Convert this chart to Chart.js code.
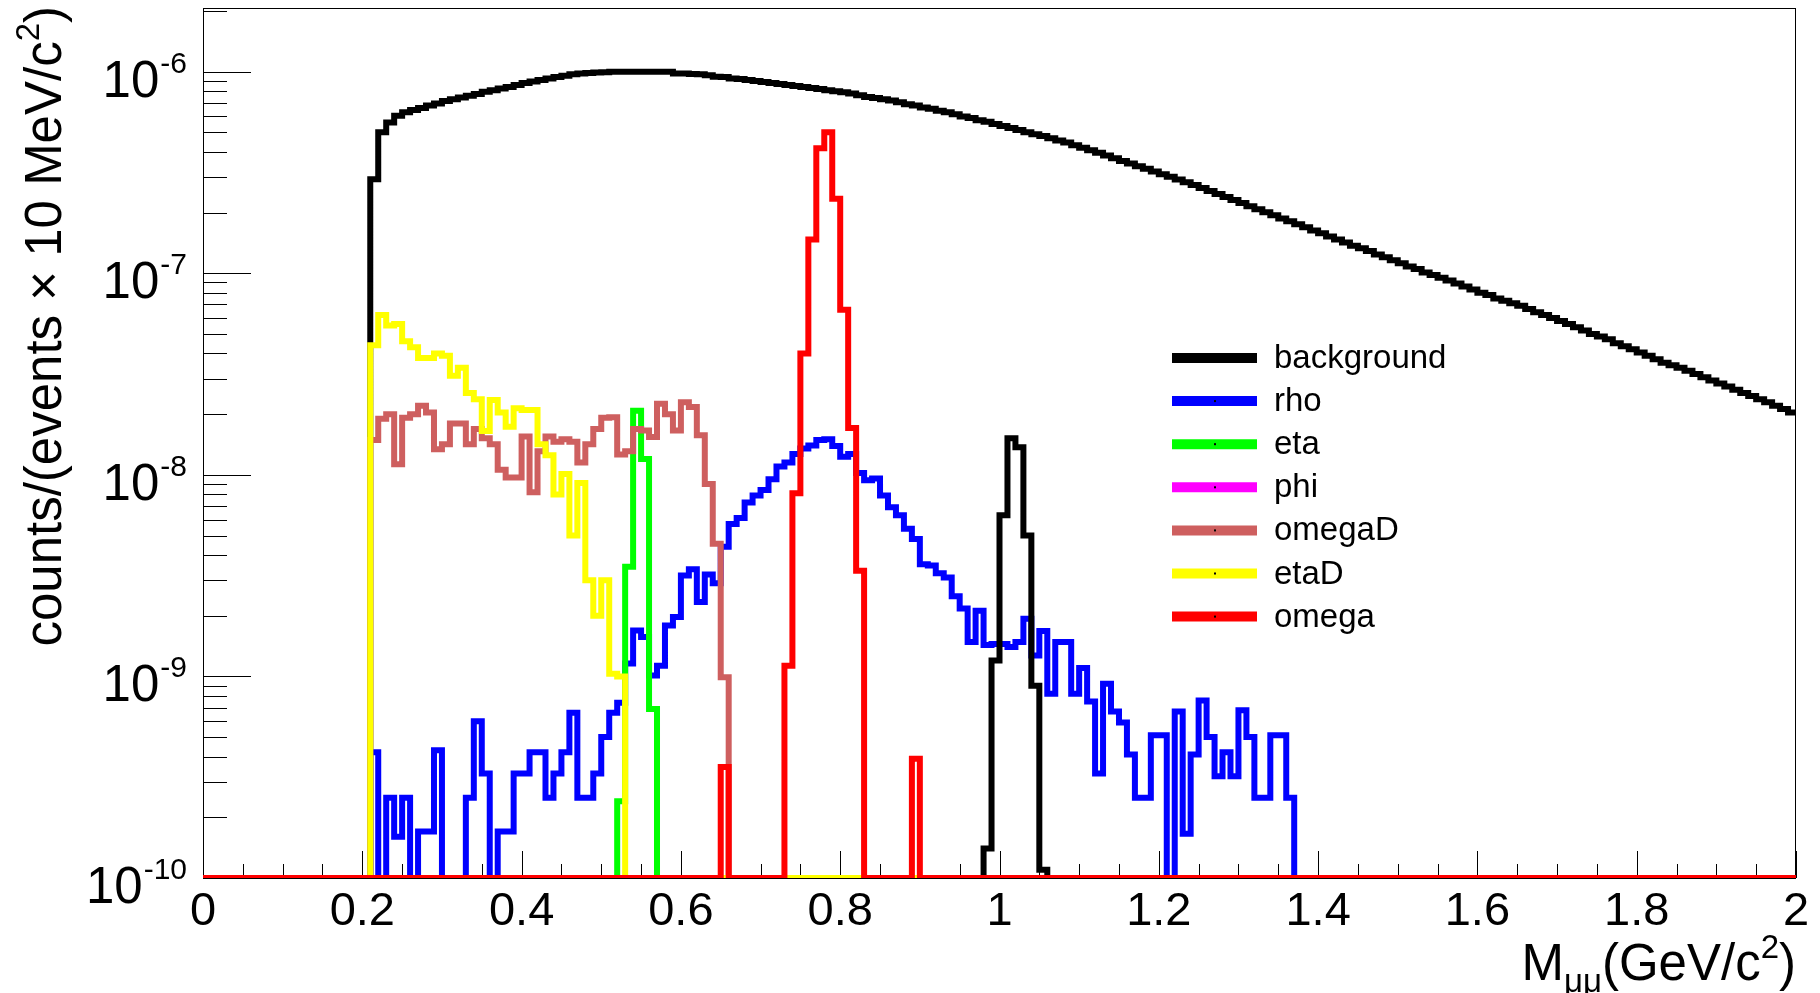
<!DOCTYPE html>
<html>
<head>
<meta charset="utf-8">
<script src="https://cdn.jsdelivr.net/npm/chart.js@4.4.1/dist/chart.umd.min.js"></script>
<style>
  html, body { margin: 0; padding: 0; background: #fff; }
  #wrap { width: 1820px; height: 993px; }
</style>
</head>
<body>
<div id="wrap"><canvas id="massChart" width="1820" height="993"></canvas></div>
<script>
// 10 MeV bins from 0 to 2 GeV/c2
const binWidth = 0.01;
const massMin = 0;
const massMax = 2;
const yMin = 1e-10;
const yMax = 2.07e-6;

const xTickValues = [0, 0.2, 0.4, 0.6, 0.8, 1, 1.2, 1.4, 1.6, 1.8, 2];
const xTickLabels = ["0", "0.2", "0.4", "0.6", "0.8", "1", "1.2", "1.4", "1.6", "1.8", "2"];
const yDecades = [-10, -9, -8, -7, -6];
const yTickLabels = ["-10", "-9", "-8", "-7", "-6"];

// each histogram: low edge of the first filled bin + contents of the following bins
const backgroundStart = 0.21;
const backgroundValues = [
  2.93e-7, 5.0e-7, 5.6e-7, 6.05e-7, 6.3e-7, 6.45e-7, 6.6e-7, 6.8e-7, 6.95e-7, 7.15e-7,
  7.3e-7, 7.45e-7, 7.6e-7, 7.75e-7, 7.95e-7, 8.1e-7, 8.25e-7, 8.4e-7, 8.6e-7, 8.8e-7,
  8.95e-7, 9.1e-7, 9.25e-7, 9.4e-7, 9.55e-7, 9.7e-7, 9.8e-7, 9.85e-7, 9.9e-7, 9.95e-7,
  1.0e-6, 1.0e-6, 1.0e-6, 1.0e-6, 1.0e-6, 1.0e-6, 1.0e-6, 1.0e-6, 9.8e-7, 9.8e-7,
  9.75e-7, 9.7e-7, 9.6e-7, 9.45e-7, 9.4e-7, 9.25e-7, 9.2e-7, 9.1e-7, 9.0e-7, 8.9e-7,
  8.8e-7, 8.7e-7, 8.6e-7, 8.5e-7, 8.4e-7, 8.3e-7, 8.2e-7, 8.1e-7, 8.0e-7, 7.9e-7,
  7.8e-7, 7.65e-7, 7.5e-7, 7.4e-7, 7.3e-7, 7.2e-7, 7.05e-7, 6.9e-7, 6.8e-7, 6.65e-7,
  6.55e-7, 6.4e-7, 6.3e-7, 6.15e-7, 6.0e-7, 5.9e-7, 5.75e-7, 5.65e-7, 5.5e-7, 5.38e-7,
  5.25e-7, 5.14e-7, 5.0e-7, 4.9e-7, 4.8e-7, 4.68e-7, 4.56e-7, 4.45e-7, 4.32e-7, 4.2e-7,
  4.08e-7, 3.96e-7, 3.84e-7, 3.72e-7, 3.61e-7, 3.5e-7, 3.4e-7, 3.3e-7, 3.2e-7, 3.1e-7,
  3.01e-7, 2.92e-7, 2.83e-7, 2.74e-7, 2.65e-7, 2.56e-7, 2.47e-7, 2.39e-7, 2.31e-7, 2.23e-7,
  2.15e-7, 2.08e-7, 2.01e-7, 1.94e-7, 1.87e-7, 1.81e-7, 1.75e-7, 1.69e-7, 1.63e-7, 1.58e-7,
  1.52e-7, 1.47e-7, 1.42e-7, 1.37e-7, 1.33e-7, 1.29e-7, 1.24e-7, 1.2e-7, 1.16e-7, 1.12e-7,
  1.08e-7, 1.05e-7, 1.01e-7, 9.8e-8, 9.5e-8, 9.2e-8, 8.9e-8, 8.6e-8, 8.3e-8, 8.0e-8,
  7.8e-8, 7.5e-8, 7.3e-8, 7.1e-8, 6.9e-8, 6.65e-8, 6.4e-8, 6.2e-8, 6.0e-8, 5.8e-8,
  5.6e-8, 5.4e-8, 5.2e-8, 5.0e-8, 4.85e-8, 4.7e-8, 4.5e-8, 4.35e-8, 4.2e-8, 4.05e-8,
  3.9e-8, 3.75e-8, 3.6e-8, 3.5e-8, 3.4e-8, 3.28e-8, 3.16e-8, 3.05e-8, 2.94e-8, 2.84e-8,
  2.74e-8, 2.64e-8, 2.55e-8, 2.46e-8, 2.37e-8, 2.29e-8, 2.2e-8, 2.12e-8, 2.04e-8
];

const rhoStart = 0.21;
const rhoValues = [
  4.2e-10, 0, 2.5e-10, 1.6e-10, 2.5e-10, 0, 1.7e-10, 1.7e-10, 4.3e-10, 0,
  0, 0, 2.5e-10, 6.0e-10, 3.3e-10, 0, 1.7e-10, 1.7e-10, 3.3e-10, 3.3e-10,
  4.2e-10, 4.2e-10, 2.5e-10, 3.3e-10, 4.2e-10, 6.6e-10, 2.5e-10, 2.5e-10, 3.3e-10, 5.0e-10,
  6.6e-10, 7.4e-10, 1.16e-9, 1.69e-9, 1.57e-9, 1.01e-9, 1.13e-9, 1.79e-9, 1.97e-9, 3.17e-9,
  3.4e-9, 2.34e-9, 3.2e-9, 2.9e-9, 4.4e-9, 5.7e-9, 6.1e-9, 7.3e-9, 7.9e-9, 8.4e-9,
  9.5e-9, 1.1e-8, 1.15e-8, 1.27e-8, 1.35e-8, 1.4e-8, 1.49e-8, 1.5e-8, 1.39e-8, 1.23e-8,
  1.27e-8, 1.02e-8, 9.4e-9, 9.6e-9, 7.9e-9, 6.9e-9, 6.3e-9, 5.4e-9, 4.8e-9, 3.6e-9,
  3.55e-9, 3.25e-9, 3.1e-9, 2.5e-9, 2.17e-9, 1.48e-9, 2.12e-9, 1.43e-9, 1.45e-9, 1.45e-9,
  1.4e-9, 1.48e-9, 1.93e-9, 1.27e-9, 1.68e-9, 8.2e-10, 1.48e-9, 1.48e-9, 8.2e-10, 1.1e-9,
  7.5e-10, 3.3e-10, 9.2e-10, 6.7e-10, 5.9e-10, 4.1e-10, 2.5e-10, 2.5e-10, 5.1e-10, 5.1e-10,
  0, 6.7e-10, 1.66e-10, 4.1e-10, 7.6e-10, 5.0e-10, 3.2e-10, 4.2e-10, 3.2e-10, 6.8e-10,
  5.0e-10, 2.5e-10, 2.5e-10, 5.1e-10, 5.1e-10, 2.5e-10
];

const etaStart = 0.52;
const etaValues = [2.4e-10, 3.5e-9, 2.08e-8, 1.2e-8, 6.9e-10];

const phiStart = 0.98;
const phiValues = [1.4e-10, 1.2e-9, 6.3e-9, 1.52e-8, 1.37e-8, 5.0e-9, 9.0e-10, 1.1e-10];

const omegaDStart = 0.21;
const omegaDValues = [
  1.49e-8, 1.9e-8, 2.0e-8, 1.13e-8, 1.92e-8, 2.0e-8, 2.2e-8, 2.04e-8, 1.34e-8, 1.42e-8,
  1.8e-8, 1.8e-8, 1.42e-8, 1.69e-8, 1.52e-8, 1.42e-8, 1.06e-8, 9.7e-9, 9.7e-9, 1.55e-8,
  8.2e-9, 1.31e-8, 1.55e-8, 1.46e-8, 1.5e-8, 1.46e-8, 1.15e-8, 1.42e-8, 1.69e-8, 1.92e-8,
  1.93e-8, 1.26e-8, 1.31e-8, 1.69e-8, 1.66e-8, 1.54e-8, 2.25e-8, 2.0e-8, 1.66e-8, 2.29e-8,
  2.17e-8, 1.57e-8, 9.0e-9, 4.55e-9, 9.9e-10
];

const etaDStart = 0.21;
const etaDValues = [
  4.4e-8, 6.2e-8, 5.5e-8, 5.6e-8, 4.6e-8, 4.3e-8, 3.8e-8, 3.8e-8, 4.0e-8, 3.9e-8,
  3.1e-8, 3.4e-8, 2.55e-8, 2.37e-8, 1.65e-8, 2.35e-8, 2.04e-8, 1.73e-8, 2.14e-8, 2.1e-8,
  2.1e-8, 1.42e-8, 1.25e-8, 8.0e-9, 1.01e-8, 5.0e-9, 9.1e-9, 3.0e-9, 2.0e-9, 3.0e-9,
  1.03e-9, 1.0e-9
];

const omegaStart = 0.65;
const omegaValues = [
  3.55e-10, 0, 0, 0, 0, 0, 0, 0, 1.13e-9, 8.1e-9,
  4.0e-8, 1.47e-7, 4.17e-7, 5.0e-7, 2.34e-7, 6.6e-8, 1.71e-8, 3.34e-9, 0, 0,
  0, 0, 0, 0, 3.9e-10
];

const seriesNames = ["background", "rho", "eta", "phi", "omegaD", "etaD", "omega"];
const seriesStarts = [backgroundStart, rhoStart, etaStart, phiStart, omegaDStart, etaDStart, omegaStart];
const seriesValues = [backgroundValues, rhoValues, etaValues, phiValues, omegaDValues, etaDValues, omegaValues];
// line colours as drawn; the phi peak is drawn in black although its legend entry is magenta
const lineColors = ["#000000", "#0000ff", "#00ff00", "#000000", "#ce5f5f", "#ffff00", "#ff0000"];
const legendColors = ["#000000", "#0000ff", "#00ff00", "#ff00ff", "#ce5f5f", "#ffff00", "#ff0000"];

const FONT = '"Liberation Sans", Arial, Helvetica, sans-serif';

// histogram as step points at the bin low edges; empty bins sit on the axis floor like ROOT does in log y
function histPoints(start, values) {
  const nBins = Math.round((massMax - massMin) / binWidth);
  const first = Math.round((start - massMin) / binWidth);
  const pts = [];
  for (let i = 0; i < nBins; i++) {
    const j = i - first;
    const v = (j >= 0 && j < values.length) ? values[j] : 0;
    pts.push({ x: +(massMin + i * binWidth).toFixed(2), y: v > 0 ? v : yMin });
  }
  pts.push({ x: massMax, y: pts[pts.length - 1].y });
  return pts;
}

const datasets = seriesNames.map((name, i) => ({
  label: name,
  data: histPoints(seriesStarts[i], seriesValues[i]),
  borderColor: lineColors[i],
  backgroundColor: lineColors[i],
  borderWidth: 6,
  stepped: "before",   // keep each bin's value until the next low edge
  pointRadius: 0,
  fill: false,
  tension: 0,
  borderJoinStyle: "miter",
  order: seriesNames.length - 1 - i   // later series drawn on top
}));

const rootAxes = {
  id: "rootAxes",
  beforeDatasetsDraw(chart) {
    const { ctx, chartArea: a, scales: { x, y } } = chart;
    ctx.save();
    ctx.strokeStyle = "#000";
    ctx.lineWidth = 1;
    ctx.strokeRect(a.left + 0.5, a.top + 0.5, a.right - a.left - 1, a.bottom - a.top);
    ctx.beginPath();
    // x ticks, every 0.05, pointing up into the frame
    for (let k = 0; k <= 40; k++) {
      const v = k * 0.05;
      const px = Math.round(x.getPixelForValue(v)) + 0.5;
      const len = (k % 4 === 0) ? 27 : 14;
      ctx.moveTo(px, a.bottom);
      ctx.lineTo(px, a.bottom - len);
    }
    // y ticks: decades long, 2..9 short
    yDecades.forEach(d => {
      for (let m = 1; m <= 9; m++) {
        const v = m * Math.pow(10, d);
        if (v > yMax) break;
        const py = Math.round(y.getPixelForValue(v)) + 0.5;
        const len = m === 1 ? 48 : 24;
        ctx.moveTo(a.left, py);
        ctx.lineTo(a.left + len, py);
      }
    });
    ctx.stroke();
    ctx.restore();
  },
  afterDraw(chart) {
    const { ctx, chartArea: a, scales: { x, y } } = chart;
    ctx.save();
    ctx.fillStyle = "#000";
    ctx.textBaseline = "alphabetic";

    // x tick labels
    ctx.font = "47px " + FONT;
    ctx.textAlign = "center";
    xTickValues.forEach((v, i) => {
      ctx.fillText(xTickLabels[i], x.getPixelForValue(v), 925);
    });

    // y tick labels 10^n
    ctx.textAlign = "left";
    yDecades.forEach((d, i) => {
      const py = y.getPixelForValue(Math.pow(10, d));
      ctx.font = "30px " + FONT;
      const we = ctx.measureText(yTickLabels[i]).width;
      ctx.font = "51px " + FONT;
      const wb = ctx.measureText("10").width;
      const right = 187;
      ctx.fillText("10", right - we - wb - 1, py + 25);
      ctx.font = "30px " + FONT;
      ctx.fillText(yTickLabels[i], right - we, py + 1);
    });

    // x title, right aligned to the end of the axis
    const xParts = [
      { t: "M", size: 51, dy: 0 },
      { t: "\u03bc\u03bc", size: 33, dy: 12 },
      { t: "(GeV/c", size: 51, dy: 0 },
      { t: "2", size: 33, dy: -22 },
      { t: ")", size: 51, dy: 0 }
    ];
    drawParts(ctx, xParts, a.right, 980);

    // y title, rotated, right aligned to the top of the axis
    ctx.save();
    ctx.translate(61, 6);
    ctx.rotate(-Math.PI / 2);
    const yParts = [
      { t: "counts/(events \u00d7 10 MeV/c", size: 51, dy: 0 },
      { t: "2", size: 33, dy: -22 },
      { t: ")", size: 51, dy: 0 }
    ];
    drawParts(ctx, yParts, 0, 0);
    ctx.restore();

    // legend
    const swatchLeft = 1172, swatchRight = 1257, textX = 1274;
    const rowTop = 358, rowStep = 43.1;
    seriesNames.forEach((name, i) => {
      const ry = rowTop + i * rowStep;
      ctx.strokeStyle = legendColors[i];
      ctx.lineWidth = 10;
      ctx.beginPath();
      ctx.moveTo(swatchLeft, ry);
      ctx.lineTo(swatchRight, ry);
      ctx.stroke();
      if (i > 0) {
        ctx.fillStyle = "#000";
        ctx.fillRect(1214, ry - 1, 2, 2);
      }
      ctx.fillStyle = "#000";
      ctx.font = "33px " + FONT;
      ctx.textAlign = "left";
      ctx.fillText(name, textX, ry + 10);
    });
    ctx.restore();
  }
};

function drawParts(ctx, parts, rightX, baseY) {
  let total = 0;
  parts.forEach(p => {
    ctx.font = p.size + "px " + FONT;
    p.w = ctx.measureText(p.t).width;
    total += p.w;
  });
  let cx = rightX - total;
  ctx.textAlign = "left";
  parts.forEach(p => {
    ctx.font = p.size + "px " + FONT;
    ctx.fillText(p.t, cx, baseY + p.dy);
    cx += p.w;
  });
}

const ctx = document.getElementById("massChart").getContext("2d");

new Chart(ctx, {
  type: "line",
  data: { datasets: datasets },
  options: {
    responsive: false,
    maintainAspectRatio: false,
    devicePixelRatio: 1,
    animation: false,
    layout: { padding: { left: 203, right: 24, top: 8, bottom: 115 } },
    plugins: {
      legend: { display: false },
      tooltip: { enabled: false }
    },
    scales: {
      x: { type: "linear", min: massMin, max: massMax, display: false },
      y: { type: "logarithmic", min: yMin, max: yMax, display: false }
    }
  },
  plugins: [rootAxes]
});
</script>
</body>
</html>
